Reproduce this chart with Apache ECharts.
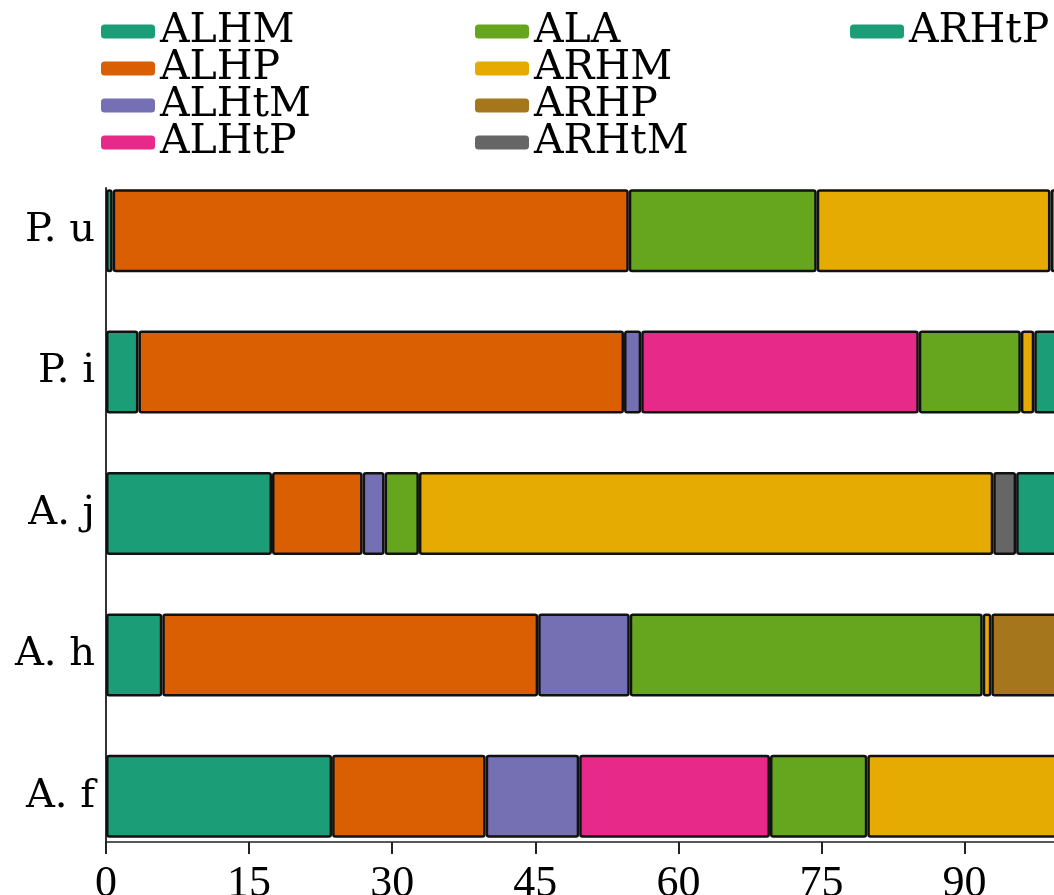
<!DOCTYPE html>
<html>
<head>
<meta charset="utf-8">
<title>Stacked composition</title>
<script src="https://cdn.jsdelivr.net/npm/echarts@6/dist/echarts.min.js"></script>
<style>
  html, body { margin: 0; padding: 0; background: #fff; }
  #chart { width: 1054px; height: 895px; }
</style>
</head>
<body>
<div id="chart"></div>
<script>
// categories, top to bottom
const species = ['P. u', 'P. i', 'A. j', 'A. h', 'A. f'];

// percentages per series, same order as species
const ALHM  = [0.7, 3.4, 17.4, 5.9, 23.7];
const ALHP  = [54.1, 50.9, 9.5, 39.4, 16.1];
const ALHtM = [0, 1.8, 2.3, 9.6, 9.8];
const ALHtP = [0, 29.1, 0, 0, 20.0];
const ALA   = [19.7, 10.7, 3.6, 37.0, 10.2];
const ARHM  = [24.5, 1.4, 60.2, 0.9, 20.2];
const ARHP  = [0, 0, 0, 7.2, 0];
const ARHtM = [0, 0, 2.4, 0, 0];
const ARHtP = [1.0, 2.7, 4.6, 0, 0];

const xTicks = [0, 15, 30, 45, 60, 75, 90];

const seriesList = [
    { name: 'ALHM', values: ALHM, color: '#1b9e77' },
    { name: 'ALHP', values: ALHP, color: '#d95f02' },
    { name: 'ALHtM', values: ALHtM, color: '#7570b3' },
    { name: 'ALHtP', values: ALHtP, color: '#e7298a' },
    { name: 'ALA', values: ALA, color: '#66a61e' },
    { name: 'ARHM', values: ARHM, color: '#e6ab02' },
    { name: 'ARHP', values: ARHP, color: '#a6761d' },
    { name: 'ARHtM', values: ARHtM, color: '#666666' },
    { name: 'ARHtP', values: ARHtP, color: '#1b9e77' }
];

const serif = '"DejaVu Serif", "Liberation Serif", serif';
const tickFont = '"Liberation Serif", serif';

const chart = echarts.init(document.getElementById('chart'));

const legendBase = {
    orient: 'vertical',
    top: 6,
    itemWidth: 54,
    itemHeight: 14,
    itemGap: -4,
    icon: 'roundRect',
    itemStyle: { borderWidth: 0 },
    textStyle: { fontFamily: serif, fontSize: 41, color: '#000' }
};

const option = {
    animation: false,
    backgroundColor: '#fff',
    legend: [
        Object.assign({}, legendBase, { left: 96, data: ['ALHM', 'ALHP', 'ALHtM', 'ALHtP'] }),
        Object.assign({}, legendBase, { left: 470, data: ['ALA', 'ARHM', 'ARHP', 'ARHtM'] }),
        Object.assign({}, legendBase, { left: 845, data: ['ARHtP'] })
    ],
    grid: [
        // bars live here, one band per species
        { left: 106, right: -6, top: 160, bottom: 28, outerBoundsMode: 'none' },
        // visible axes, spanning only the bar extent
        { left: 106, right: -6, top: 188, bottom: 53, outerBoundsMode: 'none' }
    ],
    xAxis: [
        { gridIndex: 0, type: 'value', min: 0, max: 100, show: false },
        {
            gridIndex: 1,
            type: 'value',
            min: 0,
            max: 100,
            interval: 15,
            axisLine: { show: true, lineStyle: { color: '#222', width: 1.5 } },
            axisTick: { show: true, length: 12, lineStyle: { color: '#222', width: 2 } },
            axisLabel: {
                showMaxLabel: false,
                margin: 20,
                fontFamily: tickFont,
                fontSize: 44,
                color: '#000',
                formatter: v => (xTicks.indexOf(v) >= 0 ? String(v) : '')
            },
            splitLine: { show: false }
        }
    ],
    yAxis: [
        {
            gridIndex: 0,
            type: 'category',
            inverse: true,
            data: species,
            axisLine: { show: false },
            axisTick: { show: false },
            axisLabel: { margin: 11, fontFamily: serif, fontSize: 40, color: '#000' }
        },
        {
            gridIndex: 1,
            type: 'value',
            min: 0,
            max: 1,
            axisLine: { show: true, lineStyle: { color: '#333', width: 2 } },
            axisTick: { show: false },
            axisLabel: { show: false },
            splitLine: { show: false }
        }
    ],
    series: seriesList.map(s => ({
        name: s.name,
        type: 'bar',
        stack: 'total',
        xAxisIndex: 0,
        yAxisIndex: 0,
        barWidth: 83,
        data: s.values.map(v => (v > 0 ? v : null)),
        itemStyle: {
            color: s.color,
            borderColor: '#111',
            borderWidth: 2.5,
            borderRadius: 2
        }
    }))
};

chart.setOption(option);
</script>
</body>
</html>
